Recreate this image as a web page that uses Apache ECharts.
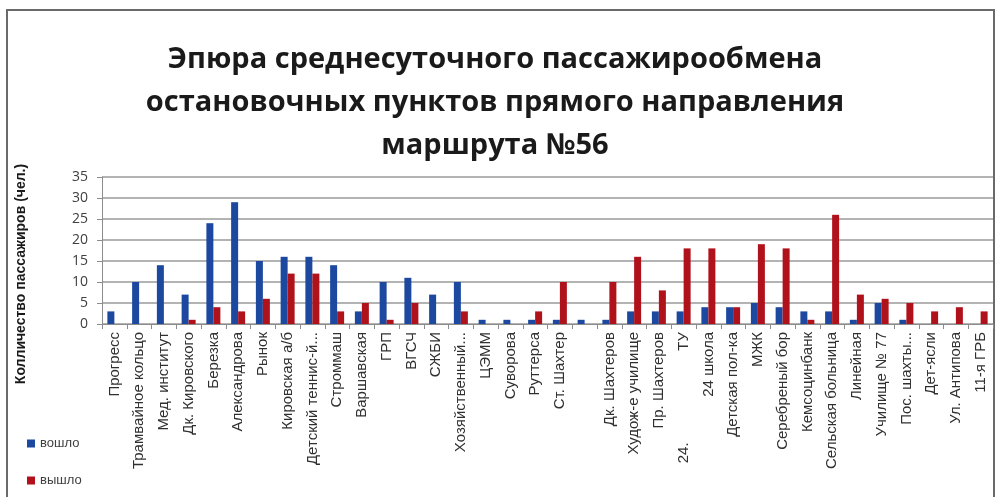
<!DOCTYPE html>
<html><head><meta charset="utf-8">
<script src="https://cdn.jsdelivr.net/npm/echarts@6/dist/echarts.min.js"></script>
<style>html,body{margin:0;padding:0;background:#fff}#c{width:1001px;height:497px}</style>
</head><body><div id="c"></div>
<script>
const categories = ["Прогресс","Трамвайное кольцо","Мед. институт","Дк. Кировского","Березка","Александрова","Рынок","Кировская а/б","Детский теннис-й...","Строммаш","Варшавская","ГРП","ВГСЧ","СЖБИ","Хозяйственный...","ЦЭММ","Суворова","Руттерса","Ст. Шахтер","","Дк. Шахтеров","Худож-е училище","Пр. Шахтеров","24.                      ТУ","24 школа","Детская пол-ка","МЖК","Серебреный бор","Кемсоцинбанк","Сельская больница","Линейная","Училище № 77","Пос. шахты...","Дет-ясли","Ул. Антипова","11-я ГРБ"];
const voshlo = [3,10,14,7,24,29,15,16,16,14,3,10,11,7,10,1,1,1,1,1,1,3,3,3,4,4,5,4,3,3,1,5,1,0,0,0];
const vyshlo = [0,0,0,1,4,3,6,12,12,3,5,1,5,0,3,0,0,3,10,0,10,16,8,18,18,4,19,18,1,26,7,6,5,3,4,3];
const yTicks = [0,5,10,15,20,25,30,35];
const titleLines = ["Эпюра среднесуточного пассажирообмена","остановочных пунктов прямого направления","маршрута №56"];
const yName = "Колличество пассажиров (чел.)";
const seriesNames = ["вошло","вышло"];

const chart = echarts.init(document.getElementById('c'));
chart.setOption({
  animation:false,
  title:{text:titleLines.join('\n'),left:490,top:33,textAlign:'center',
    textStyle:{fontFamily:'Open Sans',fontWeight:'bold',fontSize:29,lineHeight:43,color:'#1a1a1a'}},
  legend:{orient:'vertical',left:22,top:432,itemWidth:8,itemHeight:8,itemGap:24,icon:'rect',
    textStyle:{fontFamily:'Liberation Sans',fontSize:13,color:'#404040'},data:seriesNames},
  grid:{left:102,right:8,top:177,bottom:173},
  xAxis:{type:'category',data:categories,
    axisLine:{lineStyle:{color:'#8c8c8c',width:1}},
    axisTick:{show:true,lineStyle:{color:'#8c8c8c'}},
    axisLabel:{rotate:90,interval:0,margin:8,fontFamily:'Liberation Sans',fontSize:15,color:'#303030'}},
  yAxis:{type:'value',min:0,max:35,interval:5,
    axisLine:{show:true,lineStyle:{color:'#8c8c8c'}},
    axisTick:{show:true,length:5,lineStyle:{color:'#8c8c8c'}},
    axisLabel:{fontFamily:'Open Sans',fontSize:14,color:'#404040',margin:14},
    splitLine:{lineStyle:{color:'#9a9a9a',width:1.5}}},
  graphic:[
    {type:'rect',shape:{x:7,y:10,width:987,height:500},style:{fill:'none',stroke:'#6a6a6a',lineWidth:2},silent:true},
    {type:'text',x:21,y:274,rotation:Math.PI/2,
      style:{text:yName,fontFamily:'Liberation Sans',fontWeight:'bold',fontSize:14,fill:'#1a1a1a',align:'center',verticalAlign:'middle'}}
  ],
  series:[
    {name:seriesNames[0],type:'bar',data:voshlo,barWidth:7,barGap:'0%',itemStyle:{color:'#1c48a0'}},
    {name:seriesNames[1],type:'bar',data:vyshlo,barWidth:7,barGap:'0%',itemStyle:{color:'#b0121c'}}
  ]
});
</script></body></html>
